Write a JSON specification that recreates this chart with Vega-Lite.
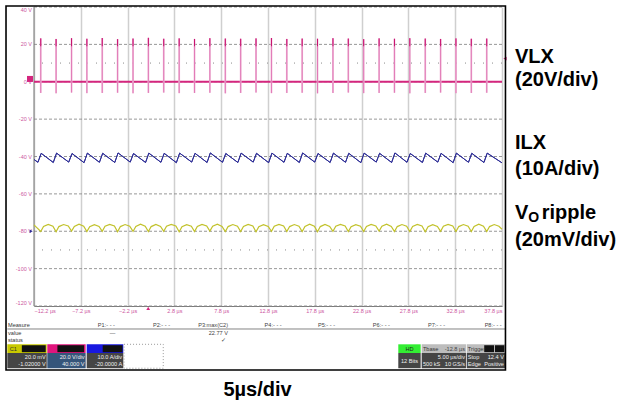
{
 "$schema": "https://vega.github.io/schema/vega-lite/v6.json",
 "width": 468, "height": 299,
 "autosize": {"type": "none"},
 "padding": {"left": 34, "top": 7, "right": 119, "bottom": 101},
 "background": "white",
 "config": {
  "view": {"stroke": null}, "font": "Liberation Sans",
  "axisY": {"disable": true},
  "axisX": {"grid": true, "gridColor": "#cfcfcf", "gridWidth": 1.5, "ticks": false, "domainColor": "#7a7a7a", "labelColor": "#cc55a0", "labelFontSize": 5.5, "labelPadding": 2, "labelFlush": true, "labelOverlap": false, "labelFont": "Liberation Sans", "title": null}
 },
 "datasets": {
  "ygrid": [{"v":-120},{"v":-100},{"v":-80},{"v":-60},{"v":-40},{"v":-20},{"v":0},{"v":20},{"v":40}],
  "spk": [{"t":-11.48,"lo":-6.0,"hi":23.2},{"t":-9.84,"lo":-6.2,"hi":22.9},{"t":-8.19,"lo":-5.8,"hi":23.3},{"t":-6.55,"lo":-6.1,"hi":23.0},{"t":-4.91,"lo":-6.0,"hi":23.4},{"t":-3.27,"lo":-5.9,"hi":22.8},{"t":-1.62,"lo":-6.2,"hi":23.1},{"t":0.02,"lo":-6.0,"hi":23.5},{"t":1.66,"lo":-5.8,"hi":23.0},{"t":3.31,"lo":-6.1,"hi":23.2},{"t":4.95,"lo":-6.0,"hi":22.9},{"t":6.59,"lo":-5.9,"hi":23.3},{"t":8.24,"lo":-6.2,"hi":23.1},{"t":9.88,"lo":-6.0,"hi":23.0},{"t":11.52,"lo":-5.8,"hi":23.2},{"t":13.17,"lo":-6.1,"hi":23.4},{"t":14.81,"lo":-6.0,"hi":22.9},{"t":16.45,"lo":-5.9,"hi":23.1},{"t":18.09,"lo":-6.2,"hi":23.0},{"t":19.74,"lo":-6.0,"hi":23.3},{"t":21.38,"lo":-5.8,"hi":23.1},{"t":23.02,"lo":-6.1,"hi":22.8},{"t":24.67,"lo":-6.0,"hi":23.2},{"t":26.31,"lo":-5.9,"hi":23.0},{"t":27.95,"lo":-6.2,"hi":23.3},{"t":29.60,"lo":-6.0,"hi":23.1},{"t":31.24,"lo":-5.8,"hi":22.9},{"t":32.88,"lo":-6.1,"hi":23.2},{"t":34.52,"lo":-6.0,"hi":23.0},{"t":36.17,"lo":-5.9,"hi":23.1}],
  "ilx": [{"t":-12.2,"v":-41.6},{"t":-11.78,"v":-43.1},{"t":-11.43,"v":-38.3},{"t":-10.14,"v":-43.2},{"t":-9.79,"v":-38.2},{"t":-8.49,"v":-43.0},{"t":-8.14,"v":-38.4},{"t":-6.85,"v":-43.3},{"t":-6.50,"v":-38.2},{"t":-5.21,"v":-43.1},{"t":-4.86,"v":-38.3},{"t":-3.57,"v":-43.2},{"t":-3.22,"v":-38.1},{"t":-1.92,"v":-43.0},{"t":-1.57,"v":-38.4},{"t":-0.28,"v":-43.2},{"t":0.07,"v":-38.2},{"t":1.36,"v":-43.1},{"t":1.71,"v":-38.3},{"t":3.01,"v":-43.3},{"t":3.36,"v":-38.2},{"t":4.65,"v":-43.0},{"t":5.00,"v":-38.3},{"t":6.29,"v":-43.2},{"t":6.64,"v":-38.1},{"t":7.94,"v":-43.1},{"t":8.29,"v":-38.4},{"t":9.58,"v":-43.2},{"t":9.93,"v":-38.2},{"t":11.22,"v":-43.0},{"t":11.57,"v":-38.3},{"t":12.87,"v":-43.3},{"t":13.22,"v":-38.2},{"t":14.51,"v":-43.1},{"t":14.86,"v":-38.3},{"t":16.15,"v":-43.2},{"t":16.50,"v":-38.1},{"t":17.79,"v":-43.0},{"t":18.14,"v":-38.4},{"t":19.44,"v":-43.2},{"t":19.79,"v":-38.2},{"t":21.08,"v":-43.1},{"t":21.43,"v":-38.3},{"t":22.72,"v":-43.3},{"t":23.07,"v":-38.2},{"t":24.37,"v":-43.0},{"t":24.72,"v":-38.3},{"t":26.01,"v":-43.2},{"t":26.36,"v":-38.1},{"t":27.65,"v":-43.1},{"t":28.00,"v":-38.4},{"t":29.30,"v":-43.2},{"t":29.65,"v":-38.2},{"t":30.94,"v":-43.0},{"t":31.29,"v":-38.3},{"t":32.58,"v":-43.3},{"t":32.93,"v":-38.2},{"t":34.22,"v":-43.1},{"t":34.57,"v":-38.3},{"t":35.87,"v":-43.2},{"t":36.22,"v":-38.2},{"t":37.8,"v":-43.4}],
  "vo": [{"t":-12.2,"v":-76.6},{"t":-11.48,"v":-80.1},{"t":-11.18,"v":-77.4},{"t":-10.68,"v":-76.3},{"t":-10.18,"v":-77.3},{"t":-9.84,"v":-80.3},{"t":-9.54,"v":-77.5},{"t":-9.04,"v":-76.4},{"t":-8.54,"v":-77.2},{"t":-8.19,"v":-79.9},{"t":-7.89,"v":-77.4},{"t":-7.39,"v":-76.2},{"t":-6.89,"v":-77.3},{"t":-6.55,"v":-80.2},{"t":-6.25,"v":-77.6},{"t":-5.75,"v":-76.5},{"t":-5.25,"v":-77.4},{"t":-4.91,"v":-80.0},{"t":-4.61,"v":-77.3},{"t":-4.11,"v":-76.3},{"t":-3.61,"v":-77.2},{"t":-3.27,"v":-80.3},{"t":-2.97,"v":-77.5},{"t":-2.47,"v":-76.4},{"t":-1.97,"v":-77.3},{"t":-1.62,"v":-80.1},{"t":-1.32,"v":-77.4},{"t":-0.82,"v":-76.2},{"t":-0.32,"v":-77.3},{"t":0.02,"v":-80.2},{"t":0.32,"v":-77.5},{"t":0.82,"v":-76.4},{"t":1.32,"v":-77.4},{"t":1.66,"v":-80.0},{"t":1.96,"v":-77.3},{"t":2.46,"v":-76.3},{"t":2.96,"v":-77.2},{"t":3.31,"v":-80.3},{"t":3.61,"v":-77.6},{"t":4.11,"v":-76.5},{"t":4.61,"v":-77.3},{"t":4.95,"v":-80.1},{"t":5.25,"v":-77.4},{"t":5.75,"v":-76.3},{"t":6.25,"v":-77.2},{"t":6.59,"v":-79.9},{"t":6.89,"v":-77.3},{"t":7.39,"v":-76.2},{"t":7.89,"v":-77.4},{"t":8.24,"v":-80.2},{"t":8.54,"v":-77.5},{"t":9.04,"v":-76.4},{"t":9.54,"v":-77.3},{"t":9.88,"v":-80.1},{"t":10.18,"v":-77.4},{"t":10.68,"v":-76.3},{"t":11.18,"v":-77.2},{"t":11.52,"v":-80.3},{"t":11.82,"v":-77.6},{"t":12.32,"v":-76.5},{"t":12.82,"v":-77.4},{"t":13.17,"v":-80.0},{"t":13.47,"v":-77.3},{"t":13.97,"v":-76.3},{"t":14.47,"v":-77.2},{"t":14.81,"v":-80.2},{"t":15.11,"v":-77.5},{"t":15.61,"v":-76.4},{"t":16.11,"v":-77.3},{"t":16.45,"v":-80.1},{"t":16.75,"v":-77.4},{"t":17.25,"v":-76.2},{"t":17.75,"v":-77.3},{"t":18.09,"v":-80.3},{"t":18.39,"v":-77.5},{"t":18.89,"v":-76.4},{"t":19.39,"v":-77.4},{"t":19.74,"v":-80.0},{"t":20.04,"v":-77.3},{"t":20.54,"v":-76.3},{"t":21.04,"v":-77.2},{"t":21.38,"v":-80.2},{"t":21.68,"v":-77.6},{"t":22.18,"v":-76.5},{"t":22.68,"v":-77.3},{"t":23.02,"v":-80.1},{"t":23.32,"v":-77.4},{"t":23.82,"v":-76.3},{"t":24.32,"v":-77.2},{"t":24.67,"v":-79.9},{"t":24.97,"v":-77.3},{"t":25.47,"v":-76.2},{"t":25.97,"v":-77.4},{"t":26.31,"v":-80.2},{"t":26.61,"v":-77.5},{"t":27.11,"v":-76.4},{"t":27.61,"v":-77.3},{"t":27.95,"v":-80.1},{"t":28.25,"v":-77.4},{"t":28.75,"v":-76.3},{"t":29.25,"v":-77.2},{"t":29.60,"v":-80.3},{"t":29.90,"v":-77.6},{"t":30.40,"v":-76.5},{"t":30.90,"v":-77.4},{"t":31.24,"v":-80.0},{"t":31.54,"v":-77.3},{"t":32.04,"v":-76.3},{"t":32.54,"v":-77.2},{"t":32.88,"v":-80.2},{"t":33.18,"v":-77.5},{"t":33.68,"v":-76.4},{"t":34.18,"v":-77.3},{"t":34.52,"v":-80.1},{"t":34.82,"v":-77.4},{"t":35.32,"v":-76.2},{"t":35.82,"v":-77.3},{"t":36.17,"v":-80.2},{"t":36.47,"v":-77.5},{"t":36.97,"v":-76.4},{"t":37.47,"v":-77.3},{"t":37.8,"v":-78.9}],
  "boxes": [
   {"part":"C1 head","t":-15.05,"t2":-10.84,"v":-140.5,"v2":-145.15},
   {"part":"C1 body","t":-15.05,"t2":-10.84,"v":-145.15,"v2":-153.3},
   {"part":"C2 head","t":-10.78,"t2":-6.68,"v":-140.5,"v2":-145.15},
   {"part":"C2 body","t":-10.78,"t2":-6.68,"v":-145.15,"v2":-153.3},
   {"part":"C3 head","t":-6.57,"t2":-2.66,"v":-140.5,"v2":-145.15},
   {"part":"C3 body","t":-6.57,"t2":-2.66,"v":-145.15,"v2":-153.3},
   {"part":"HD head","t":26.72,"t2":29.11,"v":-140.5,"v2":-145.15},
   {"part":"HD body","t":26.72,"t2":29.11,"v":-145.15,"v2":-153.3},
   {"part":"Tbase head","t":29.22,"t2":33.95,"v":-140.5,"v2":-145.15},
   {"part":"Tbase body","t":29.22,"t2":33.95,"v":-145.15,"v2":-153.3},
   {"part":"Trig head","t":34.03,"t2":38.12,"v":-140.5,"v2":-145.15},
   {"part":"Trig body","t":34.03,"t2":38.12,"v":-145.15,"v2":-153.3},
   {"part":"badge","t":-13.5,"t2":-10.95,"v":-141.0,"v2":-144.7},
   {"part":"badge","t":-9.7,"t2":-6.85,"v":-141.0,"v2":-144.7},
   {"part":"badge","t":-4.86,"t2":-2.75,"v":-141.0,"v2":-144.7},
   {"part":"badge","t":35.9,"t2":36.95,"v":-141.0,"v2":-144.7},
   {"part":"badge","t":37.05,"t2":38.05,"v":-141.0,"v2":-144.7}
  ],
  "darkL": [{"t":-14.98,"v":-130.2,"s":"Measure"},{"t":-14.98,"v":-134.6,"s":"value"},{"t":-14.98,"v":-138.4,"s":"status"},{"t":-14.8,"v":-142.9,"s":"C1"},{"t":29.35,"v":-142.9,"s":"Tbase"},{"t":34.15,"v":-142.9,"s":"Trigger"}],
  "darkR": [{"t":-3.55,"v":-130.2,"s":"P1:- - -"},{"t":2.33,"v":-130.2,"s":"P2:- - -"},{"t":8.53,"v":-130.2,"s":"P3:max(C2)"},{"t":14.26,"v":-130.2,"s":"P4:- - -"},{"t":19.96,"v":-130.2,"s":"P5:- - -"},{"t":25.83,"v":-130.2,"s":"P6:- - -"},{"t":31.71,"v":-130.2,"s":"P7:- - -"},{"t":37.77,"v":-130.2,"s":"P8:- - -"},{"t":-3.5,"v":-134.6,"s":"—"},{"t":8.53,"v":-134.6,"s":"22.77 V"},{"t":8.3,"v":-138.4,"s":"✓"},{"t":33.85,"v":-142.9,"s":"-12.8 µs"}],
  "lightR": [{"t":-10.95,"v":-147.4,"s":"20.0 mV"},{"t":-10.95,"v":-151.1,"s":"-1.02000 V"},{"t":-6.8,"v":-147.4,"s":"20.0 V/div"},{"t":-6.8,"v":-151.1,"s":"40.000 V"},{"t":-2.78,"v":-147.4,"s":"10.0 A/div"},{"t":-2.78,"v":-151.1,"s":"-20.0000 A"},{"t":33.85,"v":-147.4,"s":"5.00 µs/div"},{"t":33.85,"v":-151.1,"s":"10 GS/s"},{"t":38.0,"v":-147.4,"s":"12.4 V"},{"t":38.0,"v":-151.1,"s":"Positive"}],
  "lightL": [{"t":29.35,"v":-151.1,"s":"500 kS"},{"t":34.15,"v":-147.4,"s":"Stop"},{"t":34.15,"v":-151.1,"s":"Edge"}],
  "side": [{"t":39.19,"v":9.87,"s":"VLX"},{"t":39.19,"v":-2.54,"s":"(20V/div)"},{"t":39.19,"v":-36.15,"s":"ILX"},{"t":39.19,"v":-49.9,"s":"(10A/div)"},{"t":39.19,"v":-73.6,"s":"V"},{"t":42.04,"v":-73.6,"s":"ripple"},{"t":39.19,"v":-87.9,"s":"(20mV/div)"},{"t":11.68,"v":-168.2,"s":"5µs/div"}]
 },
 "layer": [
  {
   "data": {"name": "ygrid"},
   "mark": {"type": "rule", "color": "#8c8c8c", "strokeDash": [3, 2], "strokeWidth": 0.9},
   "encoding": {
    "y": {"field": "v", "type": "quantitative", "scale": {"domain": [-120, 40], "nice": false, "zero": false}, "axis": null}
   }
  },
  {
   "data": {"name": "ilx"},
   "mark": {"type": "line", "color": "#2d2d96", "strokeWidth": 1},
   "encoding": {
    "x": {"field": "t", "type": "quantitative", "scale": {"domain": [-12.2, 37.8], "nice": false, "zero": false},
     "axis": {"values": [-12.2,-7.2,-2.2,2.8,7.8,12.8,17.8,22.8,27.8,32.8,37.8], "labelExpr": "format(datum.value, '.1f') + ' µs'"}},
    "y": {"field": "v", "type": "quantitative", "axis": null}
   }
  },
  {
   "data": {"values": [{}]},
   "mark": {"type": "rule", "color": "#7a7a7a", "strokeWidth": 1},
   "encoding": {"x": {"datum": -12.2}, "y": {"datum": -120}, "y2": {"datum": 40}}
  },
  {
   "data": {"name": "ygrid"},
   "transform": [{"filter": "datum.v > -120 && datum.v < 40"}, {"calculate": "datum.v + ' V'", "as": "lab"}],
   "mark": {"type": "text", "align": "right", "baseline": "middle", "dx": -2, "fontSize": 5.5, "color": "#cc55a0", "font": "Liberation Sans"},
   "encoding": {"x": {"datum": -12.2}, "y": {"field": "v", "type": "quantitative"}, "text": {"field": "lab"}}
  },
  {
   "data": {"name": "ygrid"},
   "transform": [{"filter": "datum.v == 40"}, {"calculate": "datum.v + ' V'", "as": "lab"}],
   "mark": {"type": "text", "align": "right", "baseline": "top", "dx": -2, "dy": 1, "fontSize": 5.5, "color": "#cc55a0", "font": "Liberation Sans"},
   "encoding": {"x": {"datum": -12.2}, "y": {"field": "v", "type": "quantitative"}, "text": {"field": "lab"}}
  },
  {
   "data": {"name": "ygrid"},
   "transform": [{"filter": "datum.v == -120"}, {"calculate": "datum.v + ' V'", "as": "lab"}],
   "mark": {"type": "text", "align": "right", "baseline": "bottom", "dx": -2, "fontSize": 5.5, "color": "#cc55a0", "font": "Liberation Sans"},
   "encoding": {"x": {"datum": -12.2}, "y": {"field": "v", "type": "quantitative"}, "text": {"field": "lab"}}
  },
  {
   "data": {"values": [{"v": 10}, {"v": -90}]},
   "mark": {"type": "rule", "color": "#8a8a8a", "strokeDash": [1, 8], "strokeWidth": 1},
   "encoding": {"y": {"field": "v", "type": "quantitative"}}
  },
  {
   "data": {"values": [{"t": -12.2}]},
   "mark": {"type": "rule", "color": "#d4267e", "strokeWidth": 2},
   "encoding": {"x": {"field": "t", "type": "quantitative"}, "x2": {"datum": 37.8}, "y": {"datum": 0}}
  },
  {
   "data": {"name": "spk"},
   "mark": {"type": "rule", "color": "#f0bcd9", "strokeWidth": 1.8},
   "encoding": {"x": {"field": "t", "type": "quantitative"}, "y": {"field": "lo", "type": "quantitative"}, "y2": {"field": "hi"}}
  },
  {
   "data": {"name": "spk"},
   "mark": {"type": "rule", "color": "#dd6aaf", "strokeWidth": 0.8},
   "encoding": {"x": {"field": "t", "type": "quantitative"}, "y": {"field": "lo", "type": "quantitative"}, "y2": {"field": "hi"}}
  },
  {
   "data": {"name": "spk"},
   "mark": {"type": "rule", "color": "#c8106e", "strokeWidth": 1},
   "encoding": {"x": {"field": "t", "type": "quantitative"}, "y": {"field": "hi", "type": "quantitative"}, "y2": {"datum": 19}}
  },
  {
   "data": {"name": "ilx"},
   "mark": {"type": "line", "color": "#2d2d96", "strokeWidth": 1},
   "encoding": {"x": {"field": "t", "type": "quantitative"}, "y": {"field": "v", "type": "quantitative"}}
  },
  {
   "data": {"name": "vo"},
   "mark": {"type": "line", "color": "#c2c22c", "strokeWidth": 1.2},
   "encoding": {"x": {"field": "t", "type": "quantitative"}, "y": {"field": "v", "type": "quantitative"}}
  },
  {
   "data": {"values": [{}]},
   "mark": {"type": "point", "shape": "square", "filled": true, "size": 36, "color": "#d4267e", "opacity": 1},
   "encoding": {"x": {"datum": -12.63}, "y": {"datum": 1.5}}
  },
  {
   "data": {"values": [{}]},
   "mark": {"type": "point", "shape": "triangle-left", "filled": true, "size": 14, "color": "#d4267e", "opacity": 1},
   "encoding": {"x": {"datum": 38.12}, "y": {"datum": 12.4}}
  },
  {
   "data": {"values": [{}]},
   "mark": {"type": "point", "shape": "triangle-up", "filled": true, "size": 14, "color": "#d4267e", "opacity": 1},
   "encoding": {"x": {"datum": 0}, "y": {"datum": -121.3}}
  },
  {
   "data": {"values": [{}]},
   "mark": {"type": "point", "shape": "triangle-right", "filled": true, "size": 12, "color": "#2d2d96", "opacity": 1},
   "encoding": {"x": {"datum": -12.5}, "y": {"datum": -80}}
  },
  {
   "data": {"values": [{}]},
   "mark": {"type": "rule", "color": "#666666", "strokeWidth": 0.8},
   "encoding": {"x": {"datum": -15.05}, "x2": {"datum": 38.12}, "y": {"datum": -132.3}}
  },
  {
   "data": {"name": "boxes"},
   "mark": {"type": "rect"},
   "encoding": {
    "x": {"field": "t", "type": "quantitative"}, "x2": {"field": "t2"},
    "y": {"field": "v", "type": "quantitative"}, "y2": {"field": "v2"},
    "fill": {"field": "part", "type": "nominal", "legend": null,
     "scale": {"domain": ["C1 head","C1 body","C2 head","C2 body","C3 head","C3 body","HD head","HD body","Tbase head","Tbase body","Trig head","Trig body","badge"],
      "range": ["#c8c800","#454545","#e0157d","#35557a","#1818e0","#454545","#33ee33","#454545","#bdbdbd","#454545","#bdbdbd","#454545","#111111"]}}
   }
  },
  {
   "data": {"values": [{}]},
   "mark": {"type": "rect", "fill": null, "stroke": "#999999", "strokeDash": [1, 2], "strokeWidth": 1},
   "encoding": {"x": {"datum": -2.58}, "x2": {"datum": 1.61}, "y": {"datum": -140.5}, "y2": {"datum": -153.3}}
  },
  {
   "data": {"name": "darkL"},
   "mark": {"type": "text", "align": "left", "baseline": "middle", "fontSize": 5.6, "color": "#333333", "font": "Liberation Sans"},
   "encoding": {"x": {"field": "t", "type": "quantitative"}, "y": {"field": "v", "type": "quantitative"}, "text": {"field": "s"}}
  },
  {
   "data": {"name": "darkR"},
   "mark": {"type": "text", "align": "right", "baseline": "middle", "fontSize": 5.6, "color": "#444444", "font": "Liberation Sans"},
   "encoding": {"x": {"field": "t", "type": "quantitative"}, "y": {"field": "v", "type": "quantitative"}, "text": {"field": "s"}}
  },
  {
   "data": {"name": "lightR"},
   "mark": {"type": "text", "align": "right", "baseline": "middle", "fontSize": 5.6, "color": "#eeeeee", "font": "Liberation Sans"},
   "encoding": {"x": {"field": "t", "type": "quantitative"}, "y": {"field": "v", "type": "quantitative"}, "text": {"field": "s"}}
  },
  {
   "data": {"name": "lightL"},
   "mark": {"type": "text", "align": "left", "baseline": "middle", "fontSize": 5.6, "color": "#eeeeee", "font": "Liberation Sans"},
   "encoding": {"x": {"field": "t", "type": "quantitative"}, "y": {"field": "v", "type": "quantitative"}, "text": {"field": "s"}}
  },
  {
   "data": {"values": [{"t": 27.92, "v": -142.9, "s": "HD"}]},
   "mark": {"type": "text", "align": "center", "baseline": "middle", "fontSize": 5.6, "color": "#222222", "font": "Liberation Sans"},
   "encoding": {"x": {"field": "t", "type": "quantitative"}, "y": {"field": "v", "type": "quantitative"}, "text": {"field": "s"}}
  },
  {
   "data": {"values": [{"t": 27.92, "v": -149.2, "s": "12 Bits"}]},
   "mark": {"type": "text", "align": "center", "baseline": "middle", "fontSize": 5.6, "color": "#eeeeee", "font": "Liberation Sans"},
   "encoding": {"x": {"field": "t", "type": "quantitative"}, "y": {"field": "v", "type": "quantitative"}, "text": {"field": "s"}}
  },
  {
   "data": {"name": "side"},
   "transform": [{"filter": "datum.s != '5µs/div'"}],
   "mark": {"type": "text", "align": "left", "baseline": "alphabetic", "fontSize": 20, "fontWeight": "bold", "color": "#000000", "font": "Liberation Sans"},
   "encoding": {"x": {"field": "t", "type": "quantitative"}, "y": {"field": "v", "type": "quantitative"}, "text": {"field": "s"}}
  },
  {
   "data": {"values": [{"t": 40.61, "v": -74.9, "s": "O"}]},
   "mark": {"type": "text", "align": "left", "baseline": "alphabetic", "fontSize": 14, "fontWeight": "bold", "color": "#000000", "font": "Liberation Sans"},
   "encoding": {"x": {"field": "t", "type": "quantitative"}, "y": {"field": "v", "type": "quantitative"}, "text": {"field": "s"}}
  },
  {
   "data": {"name": "side"},
   "transform": [{"filter": "datum.s == '5µs/div'"}],
   "mark": {"type": "text", "align": "center", "baseline": "alphabetic", "fontSize": 20, "fontWeight": "bold", "color": "#000000", "font": "Liberation Sans"},
   "encoding": {"x": {"field": "t", "type": "quantitative"}, "y": {"field": "v", "type": "quantitative"}, "text": {"field": "s"}}
  },
  {
   "data": {"values": [{}]},
   "mark": {"type": "rect", "fill": null, "stroke": "#000000", "strokeWidth": 1.6},
   "encoding": {"x": {"datum": -15.19}, "x2": {"datum": 38.17}, "y": {"datum": 40.53}, "y2": {"datum": -154.25}}
  }
 ]
}
